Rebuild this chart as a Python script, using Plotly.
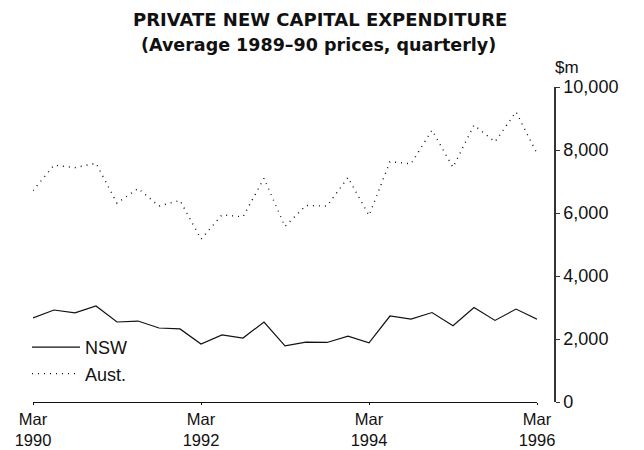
import plotly.graph_objects as go

months = ["Mar", "Jun", "Sep", "Dec"]
quarters = [f"{months[i % 4]} {1990 + i // 4}" for i in range(25)]

nsw = [2670, 2920, 2830, 3050, 2540, 2570, 2350, 2320, 1840, 2130, 2030, 2540,
       1780, 1900, 1890, 2090, 1880, 2730, 2630, 2840, 2420, 3000, 2590, 2950, 2630]
aust = [6710, 7520, 7440, 7580, 6310, 6780, 6220, 6400, 5170, 5940, 5880, 7100,
        5570, 6240, 6220, 7130, 5920, 7630, 7560, 8630, 7450, 8790, 8260, 9210, 7890]

x_tickvals = ["Mar 1990", "Mar 1992", "Mar 1994", "Mar 1996"]
x_ticktext = ["Mar<br>1990", "Mar<br>1992", "Mar<br>1994", "Mar<br>1996"]
y_tickvals = [0, 2000, 4000, 6000, 8000, 10000]
y_ticktext = ["0", "2,000", "4,000", "6,000", "8,000", "10,000"]

FONT = "Liberation Sans, Arial, sans-serif"
TFONT = "DejaVu Sans, sans-serif"

fig = go.Figure()
fig.add_trace(go.Scatter(x=quarters, y=nsw, name="NSW", mode="lines",
                         line=dict(color="#111111", width=1.2)))
fig.add_trace(go.Scatter(x=quarters, y=aust, name="Aust.", mode="lines",
                         line=dict(color="#111111", width=1.4, dash="1px,5px")))

L, R, T, B = 33, 555, 87, 402
W, H = 644, 450
x_end_frac = (537 - L) / (R - L)


def px_x(x):
    return (x - L) / (R - L)


def px_y(y):
    return (B - y) / (B - T)


fig.update_layout(
    width=W, height=H,
    margin=dict(l=L, r=W - R, t=T, b=H - B, autoexpand=False),
    paper_bgcolor="white", plot_bgcolor="white",
    font=dict(family=FONT, size=18, color="#111111"),
    showlegend=True,
    legend=dict(x=px_x(27), y=px_y(329), xanchor="left", yanchor="top",
                bgcolor="rgba(0,0,0,0)", font=dict(size=18, family=FONT),
                itemwidth=48, tracegroupgap=0),
    xaxis=dict(type="category", range=[0, 24], domain=[0, x_end_frac],
               tickvals=x_tickvals, ticktext=x_ticktext, automargin=False,
               showline=True, linecolor="#111111", linewidth=1.2,
               ticks="outside", ticklen=2, tickcolor="#111111",
               showgrid=False, zeroline=False,
               tickfont=dict(size=16.5, family=FONT)),
    yaxis=dict(range=[0, 10000], side="right", anchor="free", position=1.0,
               tickvals=y_tickvals, ticktext=y_ticktext, automargin=False,
               showline=True, linecolor="#333333", linewidth=1.5,
               ticks="outside", ticklen=4, tickcolor="#333333",
               showgrid=False, zeroline=False,
               tickfont=dict(size=18, family=FONT)),
    annotations=[
        dict(text="<b>PRIVATE NEW CAPITAL EXPENDITURE</b>", xref="paper", yref="paper",
             x=px_x(320), y=px_y(19), xanchor="center", yanchor="middle",
             showarrow=False, font=dict(size=18, family=TFONT, color="#111111")),
        dict(text="<b>(Average 1989–90 prices, quarterly)</b>", xref="paper", yref="paper",
             x=px_x(318), y=px_y(45), xanchor="center", yanchor="middle",
             showarrow=False, font=dict(size=17.5, family=TFONT, color="#111111")),
        dict(text="$m", xref="paper", yref="paper",
             x=px_x(553), y=px_y(67), xanchor="left", yanchor="middle",
             showarrow=False, font=dict(size=17, family=FONT, color="#111111")),
    ],
)

fig.write_html("out.html", config={"displayModeBar": False},
               post_script="document.body.style.margin='0';")
